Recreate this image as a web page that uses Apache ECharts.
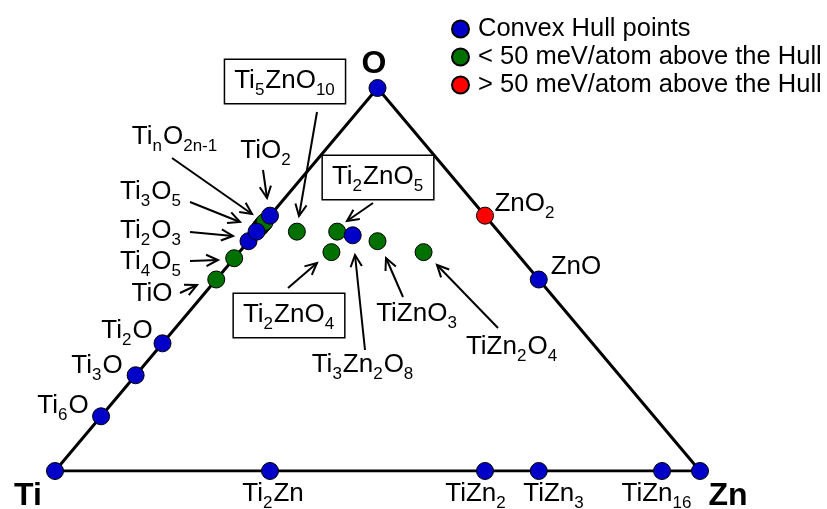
<!DOCTYPE html>
<html><head><meta charset="utf-8">
<script src="https://cdn.jsdelivr.net/npm/echarts@6/dist/echarts.min.js"></script>
<style>html,body{margin:0;padding:0;background:#fff}#c{width:827px;height:509px}</style>
</head><body><div id="c"></div>
<script>
const FONT = '"Liberation Sans", Arial, Helvetica, sans-serif';

// Compositions: number of Ti, Zn, O atoms per formula unit
const hullNames = ['Ti','Ti6O','Ti3O','Ti2O','Ti2O3','Ti3O5','TiO2','O','ZnO','Zn','TiZn16','TiZn3','TiZn2','Ti2Zn','Ti3Zn2O8'];
const hullTi = [1,6,3,2,2,3,1,0,0,0,1,1,1,2,3];
const hullZn = [0,0,0,0,0,0,0,0,1,1,16,3,2,1,2];
const hullO  = [0,1,1,1,3,5,2,1,1,0,0,0,0,0,8];

const nearNames = ['TiO','Ti4O5','Ti4O7','Ti5O9','Ti6O11','Ti7O13','Ti5ZnO10','Ti2ZnO5','Ti2ZnO4','TiZnO3','TiZn2O4'];
const nearTi = [1,4,4,5,6,7,5,2,2,1,1];
const nearZn = [0,0,0,0,0,0,1,1,1,1,2];
const nearO  = [1,5,7,9,11,13,10,5,4,3,4];

const farNames = ['ZnO2'];
const farTi = [0];
const farZn = [1];
const farO  = [2];

const legendNames = ['Convex Hull points','< 50 meV/atom above the Hull','> 50 meV/atom above the Hull'];

// Annotation labels: formula (with _sub), pixel centre of main letters, boxed?
const labelText = ['Ti_nO_2n-1','TiO_2','Ti_3O_5','Ti_2O_3','Ti_4O_5','TiO','Ti_2O','Ti_3O','Ti_6O',
  'ZnO_2','ZnO','Ti_5ZnO_10','Ti_2ZnO_5','Ti_2ZnO_4','TiZnO_3','TiZn_2O_4','Ti_3Zn_2O_8',
  'Ti_2Zn','TiZn_2','TiZn_3','TiZn_16'];
const labelX = [175,266,151,151,151,152,127,97,63, 525,576,285,378,289,417,512,363, 273,476,554,657];
const labelY = [137,151,192,231,262,294,331,366,406, 204,267,81,177,315,314,347,365, 494,494,494,494];
const labelBox = [0,0,0,0,0,0,0,0,0, 0,0,1,1,1,0,0,0, 0,0,0,0];

// Arrows: tail -> tip (pixels)
const arrows = [
  [172,158,252,214],[263,170,267,198],[190,202,240,222],[190,232,233,236],
  [190,261,218,260],[180,293,197,285],[317,112,299,216],[373,203,347,221],
  [288,288,317,263],[365,350,355,255],[403,297,386,258],[498,328,437,265]
];

function toXY(ti, zn, o) {
  const t = ti + zn + o;
  const b = zn / t, c = o / t;
  return [b + c / 2, c];
}
function pts(names, ti, zn, o) {
  return names.map((n, i) => ({ name: n, value: toXY(ti[i], zn[i], o[i]) }));
}
function rich(f) {
  const parts = f.split(/_([0-9a-z\-]+)/);
  let s = '';
  parts.forEach((p, i) => { if (p) s += (i % 2 ? '{s|' : '{m|') + p + '}'; });
  return s;
}
const richStyle = {
  m: { fontSize: 26, fontFamily: FONT, lineHeight: 31, verticalAlign: 'top', fill: '#000' },
  s: { fontSize: 17, fontFamily: FONT, lineHeight: 17, verticalAlign: 'bottom', fill: '#000', padding: [0, 1, 0, 0] }
};

const graphic = [];
labelText.forEach((t, i) => {
  const st = { text: rich(t), rich: richStyle, align: 'center', verticalAlign: 'top' };
  let y = labelY[i] - 13;
  if (labelBox[i]) {
    st.padding = [8, 9, 4, 9]; st.borderColor = '#000'; st.borderWidth = 1.5; st.backgroundColor = '#fff';
    y -= 8;
  }
  graphic.push({ type: 'text', x: labelX[i], y: y, z: 10, style: st });
});
arrows.forEach(a => {
  const [x1, y1, x2, y2] = a;
  const ang = Math.atan2(y2 - y1, x2 - x1);
  const L = 13, h = 0.45;
  const p1 = [x2 - L * Math.cos(ang - h), y2 - L * Math.sin(ang - h)];
  const p2 = [x2 - L * Math.cos(ang + h), y2 - L * Math.sin(ang + h)];
  graphic.push({ type: 'polyline', z: 10, shape: { points: [[x1, y1], [x2, y2]] }, style: { stroke: '#000', lineWidth: 2, fill: null } });
  graphic.push({ type: 'polyline', z: 10, shape: { points: [p1, [x2, y2], p2] }, style: { stroke: '#000', lineWidth: 2, fill: null } });
});
const bold = [['O', 374, 64], ['Ti', 28, 496], ['Zn', 728, 496]];
bold.forEach(b => graphic.push({ type: 'text', x: b[1], y: b[2], z: 10,
  style: { text: b[0], fontSize: 32, fontWeight: 'bold', fontFamily: FONT, fill: '#000', align: 'center', verticalAlign: 'middle' } }));

const symStyle = c => ({ color: c, borderColor: '#000', borderWidth: 1, opacity: 1 });

const chart = echarts.init(document.getElementById('c'));
chart.setOption({
  animation: false,
  backgroundColor: '#fff',
  grid: { left: 55, right: 127, top: 88, bottom: 38 },
  xAxis: { type: 'value', min: 0, max: 1, show: false },
  yAxis: { type: 'value', min: 0, max: 1, show: false },
  legend: {
    orient: 'vertical', left: 446, top: 11, itemWidth: 17, itemHeight: 17, itemGap: 2,
    icon: 'circle', data: legendNames, selectedMode: false,
    textStyle: { fontSize: 25.5, fontFamily: FONT, color: '#000', padding: [0, 0, 0, 4] }
  },
  series: [
    { type: 'line', silent: true, symbol: 'none', data: [[0,0],[1,0],[0.5,1],[0,0]],
      lineStyle: { color: '#000', width: 3 }, z: 1 },
    { name: legendNames[1], type: 'scatter', symbolSize: 17, clip: false, z: 3,
      itemStyle: symStyle('#007000'), data: pts(nearNames, nearTi, nearZn, nearO) },
    { name: legendNames[2], type: 'scatter', symbolSize: 17, clip: false, z: 3,
      itemStyle: symStyle('#ff0000'), data: pts(farNames, farTi, farZn, farO) },
    { name: legendNames[0], type: 'scatter', symbolSize: 17, clip: false, z: 4,
      itemStyle: symStyle('#0000c8'), data: pts(hullNames, hullTi, hullZn, hullO) }
  ],
  graphic: graphic
});
</script>
</body></html>
